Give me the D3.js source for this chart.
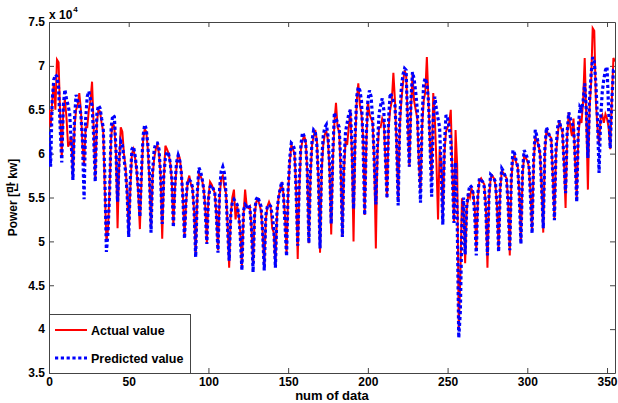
<!DOCTYPE html>
<html>
<head>
<meta charset="utf-8">
<script src="https://cdn.jsdelivr.net/npm/d3@7"></script>
<style>
  body { margin: 0; background: #fff; }
  svg { display: block; font-family: "Liberation Sans", Arial, "Noto Sans CJK KR", sans-serif; font-weight: bold; }
</style>
</head>
<body>
<svg id="chart" width="618" height="403"></svg>
<script>
// daily power, unit 10^4 kW
const seriesNames = ['Actual value', 'Predicted value'];

const actualValues = [
  6.50,
  6.30, 6.60, 6.80, 6.50, 7.07, 7.04, 6.45,
  5.95, 6.50, 6.62, 6.40, 6.08, 6.12, 6.20,
  5.72, 6.30, 6.50, 6.55, 6.69, 6.50, 6.10,
  5.87, 6.30, 6.30, 6.50, 6.60, 6.82, 6.30,
  5.72, 6.35, 6.50, 6.48, 6.35, 6.25, 5.60,
  5.00, 5.13, 5.60, 6.20, 6.35, 6.30, 6.00,
  5.15, 5.85, 6.30, 6.25, 6.00, 5.85, 5.55,
  5.07, 5.60, 6.00, 6.05, 5.95, 5.80, 5.55,
  5.14, 5.70, 6.15, 6.28, 6.25, 6.05, 5.70,
  5.15, 5.75, 5.95, 6.05, 6.10, 6.00, 5.75,
  5.03, 5.70, 6.09, 6.05, 6.00, 5.90, 5.70,
  5.18, 5.60, 5.85, 6.00, 5.95, 5.80, 5.50,
  5.05, 5.45, 5.68, 5.75, 5.65, 5.60, 5.35,
  4.85, 5.50, 5.78, 5.75, 5.70, 5.60, 5.40,
  4.98, 5.50, 5.68, 5.65, 5.60, 5.55, 5.30,
  4.90, 5.50, 5.72, 5.75, 5.62, 5.55, 5.20,
  4.70, 5.30, 5.50, 5.59, 5.25, 5.40, 5.30, 5.10,
  4.70, 5.30, 5.59, 5.40, 5.38, 5.40, 5.15,
  4.72, 5.30, 5.45, 5.48, 5.42, 5.35, 5.10,
  4.70, 5.25, 5.40, 5.45, 5.40, 5.15, 5.10,
  4.72, 5.30, 5.50, 5.60, 5.65, 5.55, 5.30,
  4.85, 5.55, 5.90, 6.10, 6.05, 6.00, 5.60,
  4.80, 5.60, 6.05, 6.15, 6.20, 6.15, 5.80,
  4.98, 5.75, 6.10, 6.20, 6.27, 6.15, 5.70,
  4.87, 5.80, 6.10, 6.22, 6.25, 6.15, 5.80,
  5.08, 5.90, 6.35, 6.58, 6.30, 6.25, 5.80,
  5.05, 5.80, 6.15, 6.10, 6.30, 6.50, 6.00,
  5.00, 6.10, 6.60, 6.80, 6.55, 6.45, 6.20,
  5.30, 6.10, 6.60, 6.45, 6.40, 6.35, 5.90,
  4.92, 6.00, 6.30, 6.30, 6.40, 6.35, 5.95,
  5.50, 6.30, 6.50, 6.60, 6.92, 6.60, 6.10,
  5.45, 6.30, 6.60, 6.80, 6.95, 6.90, 6.40,
  5.85, 6.50, 6.90, 6.60, 6.50, 6.40, 5.90,
  5.57, 6.30, 6.60, 6.70, 7.10, 6.60, 6.10,
  5.72, 6.69, 6.40, 5.90, 5.25, 6.05, 5.90,
  5.24, 6.00, 6.25, 6.30, 6.35, 6.50, 5.80,
  5.21, 6.27, 5.87, 3.99, 4.60, 5.49, 5.40,
  4.75, 5.35, 5.55, 5.50, 5.60, 5.55, 5.40,
  4.90, 5.50, 5.70, 5.72, 5.68, 5.65, 5.40,
  4.70, 5.50, 5.72, 5.75, 5.72, 5.65, 5.40,
  4.90, 5.60, 5.80, 5.78, 5.75, 5.72, 5.45,
  4.84, 5.70, 5.95, 5.98, 5.90, 5.85, 5.55,
  4.98, 5.75, 5.98, 5.95, 5.92, 5.85, 5.55,
  5.12, 5.90, 6.20, 6.15, 6.10, 6.00, 5.60,
  5.10, 6.00, 6.28, 6.22, 6.20, 6.18, 5.75,
  5.25, 6.00, 6.20, 6.38, 6.30, 6.25, 5.90,
  5.38, 6.20, 6.47, 6.30, 6.20, 6.40, 5.90,
  5.50, 6.20, 6.40, 6.35, 6.60, 7.09, 6.40,
  5.59, 6.50, 6.80, 7.43, 7.40, 6.60, 6.30,
  6.10, 6.40, 6.44, 6.35, 6.45, 6.40, 6.30,
  6.05, 6.60, 7.09, 7.05
];

const predictedValues = [
  6.25,
  5.85, 6.60, 6.84, 6.90, 6.88, 6.75, 6.30,
  5.90, 6.55, 6.73, 6.62, 6.55, 6.45, 6.10,
  5.70, 6.40, 6.67, 6.60, 6.55, 6.45, 6.15,
  5.48, 6.40, 6.65, 6.71, 6.62, 6.55, 6.20,
  5.68, 6.45, 6.55, 6.52, 6.40, 6.30, 5.75,
  4.88, 5.10, 5.55, 6.30, 6.44, 6.42, 6.05,
  5.45, 5.95, 6.14, 6.10, 5.95, 5.80, 5.55,
  5.05, 5.70, 6.05, 6.08, 5.98, 5.82, 5.60,
  5.28, 5.80, 6.20, 6.33, 6.28, 6.10, 5.75,
  5.10, 5.80, 6.05, 6.12, 6.12, 6.05, 5.75,
  5.20, 5.75, 5.95, 6.02, 6.00, 5.90, 5.72,
  5.16, 5.65, 5.90, 5.98, 5.92, 5.78, 5.48,
  5.03, 5.50, 5.70, 5.70, 5.68, 5.62, 5.35,
  4.82, 5.55, 5.84, 5.80, 5.72, 5.60, 5.35,
  4.97, 5.48, 5.62, 5.64, 5.60, 5.55, 5.30,
  4.87, 5.60, 5.80, 5.85, 5.78, 5.55, 5.15,
  4.78, 5.30, 5.45, 5.48, 5.45, 5.42, 5.30, 5.05,
  4.67, 5.35, 5.42, 5.40, 5.42, 5.38, 5.15,
  4.65, 5.35, 5.48, 5.51, 5.45, 5.40, 5.10,
  4.67, 5.30, 5.40, 5.42, 5.40, 5.30, 5.15,
  4.70, 5.35, 5.50, 5.60, 5.68, 5.55, 5.20,
  4.83, 5.60, 5.95, 6.12, 6.10, 6.05, 5.55,
  4.95, 5.70, 6.10, 6.24, 6.20, 6.12, 5.80,
  4.98, 5.80, 6.15, 6.27, 6.25, 6.10, 5.70,
  4.92, 5.90, 6.20, 6.30, 6.33, 6.20, 5.85,
  5.20, 6.00, 6.47, 6.40, 6.35, 6.30, 5.90,
  5.05, 5.90, 6.25, 6.35, 6.45, 6.50, 6.10,
  5.37, 6.20, 6.65, 6.76, 6.72, 6.60, 6.10,
  5.30, 6.20, 6.60, 6.72, 6.65, 6.40, 5.90,
  5.42, 6.10, 6.45, 6.55, 6.63, 6.50, 5.95,
  5.49, 6.40, 6.69, 6.65, 6.60, 6.55, 6.15,
  5.41, 6.40, 6.75, 6.90, 6.97, 6.95, 6.30,
  5.85, 6.60, 6.93, 6.85, 6.70, 6.50, 5.95,
  5.44, 6.40, 6.80, 6.86, 6.80, 6.60, 6.10,
  5.51, 6.40, 6.65, 6.50, 6.40, 6.30, 5.80,
  5.19, 6.10, 6.44, 6.40, 6.30, 6.15, 5.75,
  5.21, 5.90, 5.30, 3.90, 4.20, 5.20, 5.50,
  4.85, 5.40, 5.55, 5.64, 5.62, 5.55, 5.30,
  4.84, 5.55, 5.72, 5.70, 5.68, 5.62, 5.35,
  4.84, 5.55, 5.76, 5.74, 5.72, 5.68, 5.40,
  4.88, 5.62, 5.83, 5.80, 5.75, 5.70, 5.40,
  4.90, 5.75, 6.04, 6.00, 5.92, 5.85, 5.50,
  4.97, 5.80, 6.04, 6.00, 5.95, 5.88, 5.50,
  5.09, 5.95, 6.27, 6.20, 6.10, 6.00, 5.60,
  5.15, 6.05, 6.30, 6.25, 6.20, 6.15, 5.75,
  5.24, 6.05, 6.30, 6.38, 6.30, 6.28, 5.90,
  5.55, 6.25, 6.47, 6.40, 6.35, 6.30, 5.95,
  5.45, 6.30, 6.53, 6.50, 6.60, 6.80, 6.50,
  5.95, 6.60, 6.90, 7.10, 7.05, 6.80, 6.40,
  5.78, 6.40, 6.70, 6.85, 6.95, 6.99, 6.50,
  6.06, 6.60, 6.95, 6.95
];

const xTicks = [0, 50, 100, 150, 200, 250, 300, 350];
const yTicks = [3.5, 4, 4.5, 5, 5.5, 6, 6.5, 7, 7.5];
const xMax = 355;

const margin = { top: 22, right: 3, bottom: 30, left: 49 };
const width = 618 - margin.left - margin.right;
const height = 403 - margin.top - margin.bottom;

const svg = d3.select('#chart');
const chart = svg.append('g').attr('transform', `translate(${margin.left},${margin.top})`);

const x = d3.scaleLinear().domain([0, xMax]).range([0, width]);
const y = d3.scaleLinear().domain([3.5, 7.5]).range([height, 0]);

chart.append('clipPath').attr('id', 'plot-clip')
  .append('rect').attr('width', width).attr('height', height);

const axisColor = '#444';

// bottom / left with labels, top / right ticks only (box on)
const bottomAxis = chart.append('g')
  .attr('transform', `translate(0,${height})`)
  .call(d3.axisBottom(x).tickValues(xTicks).tickSizeInner(-5).tickSizeOuter(0).tickPadding(4));
const leftAxis = chart.append('g')
  .call(d3.axisLeft(y).tickValues(yTicks).tickSizeInner(-5).tickSizeOuter(0).tickPadding(4).tickFormat(d3.format('')));
const topAxis = chart.append('g')
  .call(d3.axisTop(x).tickValues(xTicks).tickSizeInner(-5).tickSizeOuter(0).tickFormat(''));
const rightAxis = chart.append('g')
  .attr('transform', `translate(${width},0)`)
  .call(d3.axisRight(y).tickValues(yTicks).tickSizeInner(-5).tickSizeOuter(0).tickFormat(''));

[bottomAxis, leftAxis, topAxis, rightAxis].forEach(g => {
  g.attr('color', axisColor);
  g.selectAll('text')
    .attr('fill', '#000')
    .attr('font-size', '12px')
    .attr('font-weight', 'bold')
    .attr('font-family', '"Liberation Sans", Arial, sans-serif');
});

const line = d3.line()
  .x((d, i) => x(i))
  .y(d => y(d));

const plot = chart.append('g').attr('clip-path', 'url(#plot-clip)');

plot.append('path')
  .datum(actualValues)
  .attr('d', line)
  .attr('fill', 'none')
  .attr('stroke', '#ff0000')
  .attr('stroke-width', 2)
  .attr('stroke-linejoin', 'miter');

plot.append('path')
  .datum(predictedValues)
  .attr('d', line)
  .attr('fill', 'none')
  .attr('stroke', '#0000ff')
  .attr('stroke-width', 3.2)
  .attr('stroke-dasharray', '3.2 2.6');

// exponent label
const expo = svg.append('text')
  .attr('x', margin.left)
  .attr('y', 19)
  .attr('font-size', '12px');
expo.append('tspan').text('x 10');
expo.append('tspan').attr('font-size', '8px').attr('dy', -7).attr('dx', 1).text('4');

// axis titles
svg.append('text')
  .attr('x', margin.left + width / 2)
  .attr('y', 400)
  .attr('text-anchor', 'middle')
  .attr('font-size', '13px')
  .text('num of data');

svg.append('text')
  .attr('transform', `translate(17,${margin.top + height / 2}) rotate(-90)`)
  .attr('text-anchor', 'middle')
  .attr('font-size', '12px')
  .text('Power [만 kw]');

// legend
const legend = chart.append('g').attr('transform', `translate(0,${height - 59})`);
legend.append('rect')
  .attr('x', 0.5).attr('y', 0.5)
  .attr('width', 141).attr('height', 59)
  .attr('fill', '#fff')
  .attr('stroke', axisColor);

const legendRows = [
  { name: seriesNames[0], color: '#ff0000', width: 2, dash: null, y: 16 },
  { name: seriesNames[1], color: '#0000ff', width: 3.2, dash: '3.2 2.6', y: 44 },
];

legendRows.forEach(r => {
  legend.append('line')
    .attr('x1', 6).attr('x2', 38)
    .attr('y1', r.y).attr('y2', r.y)
    .attr('stroke', r.color)
    .attr('stroke-width', r.width)
    .attr('stroke-dasharray', r.dash);
  legend.append('text')
    .attr('x', 42)
    .attr('y', r.y + 4.5)
    .attr('font-size', '12.5px')
    .text(r.name);
});
</script>
</body>
</html>
